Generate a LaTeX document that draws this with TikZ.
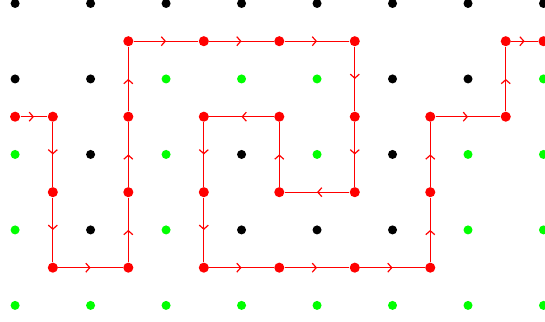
\documentclass[tikz,border=0pt]{standalone}
\usepackage{tikz}
\usetikzlibrary{calc, arrows.meta, decorations.markings}

\definecolor{dotgreen}{RGB}{0,255,0}
\tikzset{
  gridpt/.style={circle, fill, inner sep=0pt, minimum size=3.4pt},
  pathpt/.style={circle, fill=red, inner sep=0pt, minimum size=3.8pt},
  midarrow/.style={red, line width=0.45pt,
    decoration={markings, mark=at position 0.5 with {\arrow{Straight Barb[length=1.5pt,width=3.4pt]}}},
    postaction={decorate}}
}

\begin{document}
\begin{tikzpicture}
      \useasboundingbox (-0.2,-0.21) rectangle (7.02,4.046);
      % lattice points, one row at a time (top to bottom)
      \foreach \c [count=\i from 0] in {black,black,black,black,black,black,black,black}
        \node[gridpt, fill=\c] (g\i-0) at (\i,4) {};
      \foreach \c [count=\i from 0] in {black,black,dotgreen,dotgreen,dotgreen,black,black,dotgreen}
        \node[gridpt, fill=\c] (g\i-1) at (\i,3) {};
      \foreach \c [count=\i from 0] in {dotgreen,black,dotgreen,black,dotgreen,black,dotgreen,dotgreen}
        \node[gridpt, fill=\c] (g\i-2) at (\i,2) {};
      \foreach \c [count=\i from 0] in {dotgreen,black,dotgreen,black,black,black,dotgreen,dotgreen}
        \node[gridpt, fill=\c] (g\i-3) at (\i,1) {};
      \foreach \c [count=\i from 0] in {dotgreen,dotgreen,dotgreen,dotgreen,dotgreen,dotgreen,dotgreen,dotgreen}
        \node[gridpt, fill=\c] (g\i-4) at (\i,0) {};

      % the walk on the dual lattice
      \foreach \x/\y [count=\k] in {0/2.5, 0.5/2.5, 0.5/1.5, 0.5/0.5, 1.5/0.5, 1.5/1.5, 1.5/2.5,
          1.5/3.5, 2.5/3.5, 3.5/3.5, 4.5/3.5, 4.5/2.5, 4.5/1.5, 3.5/1.5, 3.5/2.5, 2.5/2.5,
          2.5/1.5, 2.5/0.5, 3.5/0.5, 4.5/0.5, 5.5/0.5, 5.5/1.5, 5.5/2.5, 6.5/2.5, 6.5/3.5, 7/3.5}
        \node[pathpt] (p\k) at (\x,\y) {};
      \foreach \n [remember=\n as \last (initially 1)] in {2,...,26}
        \draw[midarrow] (p\last) -- (p\n);
    \end{tikzpicture}
\end{document}
